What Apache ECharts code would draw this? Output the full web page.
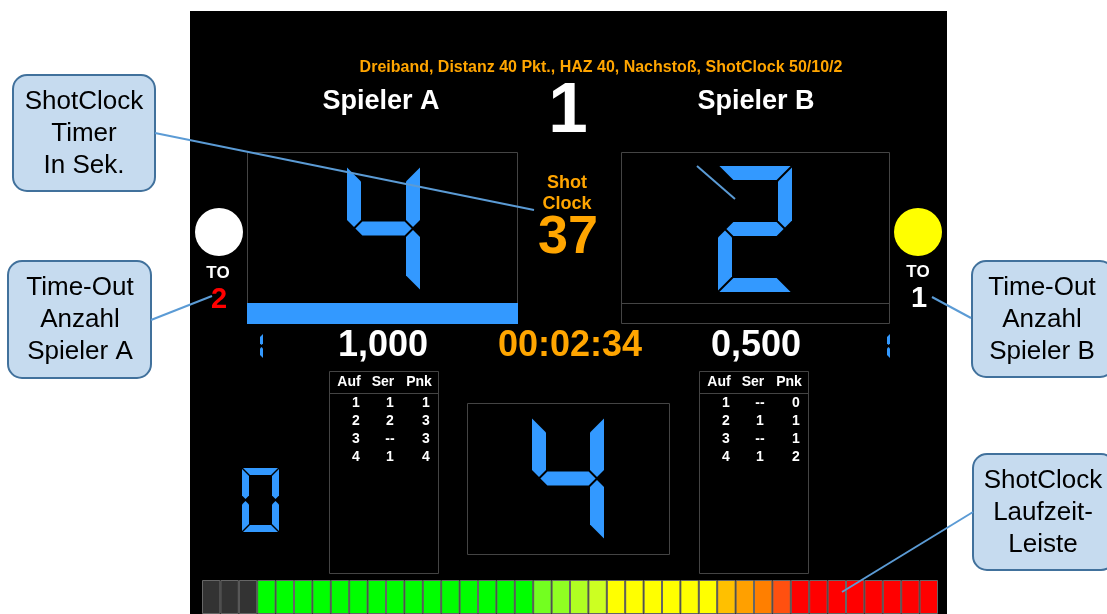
<!DOCTYPE html>
<html><head><meta charset="utf-8">
<script src="https://cdn.jsdelivr.net/npm/echarts@6/dist/echarts.min.js"></script>
<style>html,body{margin:0;padding:0;background:#fff}#c{width:1107px;height:614px}</style>
</head><body><div id="c"></div>
<script>
// ---------- data ----------
const headerText = 'Dreiband, Distanz 40 Pkt., HAZ 40, Nachstoß, ShotClock 50/10/2';
const players = ['Spieler A', 'Spieler B'];
const setNumber = '1';
const shotClockLabel = ['Shot', 'Clock'];
const shotClockSeconds = '37';
const matchTime = '00:02:34';
const averages = ['1,000', '0,500'];
const timeoutLabel = 'TO';
const timeouts = ['2', '1'];
const scoreDigits = [4, 2];
const inningDigit = 4;
const seriesDigit = 0;
const smallDigits = [1, 1];
const tableHeader = ['Auf', 'Ser', 'Pnk'];
const innA = ['1', '2', '3', '4'];
const serA = ['1', '2', '--', '1'];
const pnkA = ['1', '3', '3', '4'];
const innB = ['1', '2', '3', '4'];
const serB = ['--', '1', '--', '1'];
const pnkB = ['0', '1', '1', '2'];
const barCells = Array.from({length: 40}, (_, i) => String(i + 1));
const barValues = [1,1,1,1,1,1,1,1,1,1,1,1,1,1,1,1,1,1,1,1,1,1,1,1,1,1,1,1,1,1,1,1,1,1,1,1,1,1,1,1];
const barColors = [
  '#333333','#333333','#333333',
  '#00ff00','#00ff00','#00ff00','#00ff00','#00ff00','#00ff00','#00ff00','#00ff00',
  '#00ff00','#00ff00','#00ff00','#00ff00','#00ff00','#00ff00','#00ff00',
  '#73ff20','#90ff22','#b0ff22','#ccff22',
  '#ffff00','#ffff00','#ffff00','#ffff00','#ffff00','#ffff00',
  '#ffc000','#ffa000','#ff7f00','#ff5010',
  '#ff0000','#ff0000','#ff0000','#ff0000','#ff0000','#ff0000','#ff0000','#ff0000'
];
const calloutTexts = [
  ['ShotClock', 'Timer', 'In Sek.'],
  ['Time-Out', 'Anzahl', 'Spieler A'],
  ['Time-Out', 'Anzahl', 'Spieler B'],
  ['ShotClock', 'Laufzeit-', 'Leiste']
];

// ---------- helpers ----------
const FONT = '"Liberation Sans", Arial, sans-serif';
const BLUE = '#3399ff';
const ORANGE = '#ffa500';
const GRAY = '#444444';
const SEGMAP = {0:'abcdef',1:'bc',2:'abged',3:'abgcd',4:'fgbc',5:'afgcd',6:'afgedc',7:'abc',8:'abcdefg',9:'abcdfg'};

function sevenSeg(d, x, y, w, h, t, color) {
  const g = Math.max(1, t * 0.1);
  const ym = y + h / 2, ht = t / 2;
  const segs = {
    a: [[x+g, y], [x+w-g, y], [x+w-t-g, y+t], [x+t+g, y+t]],
    d: [[x+t+g, y+h-t], [x+w-t-g, y+h-t], [x+w-g, y+h], [x+g, y+h]],
    g: [[x+ht+g, ym], [x+t+g, ym-ht], [x+w-t-g, ym-ht], [x+w-ht-g, ym], [x+w-t-g, ym+ht], [x+t+g, ym+ht]],
    f: [[x, y+g], [x+t, y+t+g], [x+t, ym-ht-g], [x+ht, ym-g], [x, ym-ht-g]],
    e: [[x, ym+ht+g], [x+ht, ym+g], [x+t, ym+ht+g], [x+t, y+h-t-g], [x, y+h-g]],
    b: [[x+w, y+g], [x+w, ym-ht-g], [x+w-ht, ym-g], [x+w-t, ym-ht-g], [x+w-t, y+t+g]],
    c: [[x+w-t, ym+ht+g], [x+w-ht, ym+g], [x+w, ym+ht+g], [x+w, y+h-g], [x+w-t, y+h-t-g]]
  };
  return SEGMAP[d].split('').map(s => ({type: 'polygon', z: 5, shape: {points: segs[s]}, style: {fill: color}}));
}
function txt(text, x, y, size, color, bold, align, extra) {
  return Object.assign({
    type: 'text', z: 10,
    style: {x: x, y: y, text: text, fill: color, font: (bold ? 'bold ' : '') + size + 'px ' + FONT,
      align: align || 'center', verticalAlign: 'middle'}
  }, extra || {});
}
function box(x, y, w, h, stroke) {
  return {type: 'rect', z: 3, shape: {x: x, y: y, width: w, height: h}, style: {fill: 'none', stroke: stroke || GRAY, lineWidth: 1}};
}
function line(x1, y1, x2, y2) {
  return {type: 'line', z: 50, shape: {x1: x1, y1: y1, x2: x2, y2: y2}, style: {stroke: '#5b9bd5', lineWidth: 2}};
}
function callout(lines, x, y, w, h, cx, cy0) {
  const els = [{type: 'rect', z: 40, shape: {x: x, y: y, width: w, height: h, r: 14},
    style: {fill: '#c6dbef', stroke: '#41719c', lineWidth: 2}}];
  lines.forEach((l, i) => els.push(Object.assign(txt(l, cx, cy0 + i * 32, 26, '#000', false), {z: 41})));
  return els;
}
function table(x0, inn, ser, pnk) {
  const els = [box(x0 + 0.5, 371.5, 109, 202), {type: 'line', z: 3, shape: {x1: x0, y1: 393.5, x2: x0 + 109, y2: 393.5}, style: {stroke: GRAY, lineWidth: 1}}];
  const hx = [20, 54, 90], cx = [27, 61, 97];
  tableHeader.forEach((h, i) => els.push(txt(h, x0 + hx[i], 382, 14, '#fff', true)));
  inn.forEach((v, r) => {
    const y = 403 + r * 17.9;
    els.push(txt(v, x0 + cx[0], y, 14, '#fff', true));
    els.push(txt(ser[r], x0 + cx[1], y, 14, '#fff', true));
    els.push(txt(pnk[r], x0 + cx[2], y, 14, '#fff', true));
  });
  return els;
}

// ---------- graphics ----------
let G = [];
G.push({type: 'rect', z: 0, shape: {x: 190, y: 11, width: 757, height: 603}, style: {fill: '#000'}});
G.push(txt(headerText, 601, 68, 16, ORANGE, true));
G.push(txt(players[0], 381, 102, 27, '#fff', true));
G.push(txt(players[1], 756, 102, 27, '#fff', true));
G.push(txt(setNumber, 568, 112, 71, '#fff', true));
// score boxes
G.push(box(247.5, 152.5, 270, 171));
G.push({type: 'rect', z: 4, shape: {x: 247, y: 303, width: 271, height: 21}, style: {fill: BLUE}});
G.push(box(621.5, 152.5, 268, 171));
G.push({type: 'line', z: 3, shape: {x1: 621, y1: 303.5, x2: 890, y2: 303.5}, style: {stroke: GRAY, lineWidth: 1}});
G = G.concat(sevenSeg(scoreDigits[0], 347, 166, 73, 125, 14, BLUE));
G = G.concat(sevenSeg(scoreDigits[1], 718, 166, 74, 126, 14, BLUE));
// shot clock
G.push(txt(shotClockLabel[0], 567, 183, 18, ORANGE, true));
G.push(txt(shotClockLabel[1], 567, 204, 18, ORANGE, true));
G.push(txt(shotClockSeconds, 568, 238, 54, ORANGE, true));
// timeouts
G.push({type: 'circle', z: 3, shape: {cx: 219, cy: 232, r: 24}, style: {fill: '#fff'}});
G.push({type: 'circle', z: 3, shape: {cx: 918, cy: 232, r: 24}, style: {fill: '#ffff00'}});
G.push(txt(timeoutLabel, 218, 273, 17, '#fff', true));
G.push(txt(timeoutLabel, 918, 272, 17, '#fff', true));
G.push(txt(timeouts[0], 219, 300, 29, '#ff0000', true));
G.push(txt(timeouts[1], 919, 299, 29, '#fff', true));
// averages & time
G.push(txt(averages[0], 383, 346, 36, '#fff', true));
G.push(txt(averages[1], 756, 346, 36, '#fff', true));
G.push(txt(matchTime, 570, 346, 36, ORANGE, true));
G = G.concat(sevenSeg(smallDigits[0], 255, 333, 8, 26, 3, BLUE));
G = G.concat(sevenSeg(smallDigits[1], 882, 333, 8, 26, 3, BLUE));
// tables
G = G.concat(table(329, innA, serA, pnkA));
G = G.concat(table(699, innB, serB, pnkB));
// center inning box and series digit
G.push(box(467.5, 403.5, 202, 151));
G = G.concat(sevenSeg(inningDigit, 532, 417, 72, 123, 14, BLUE));
G = G.concat(sevenSeg(seriesDigit, 242, 468, 37, 64, 7, BLUE));
// callouts
G = G.concat(callout(calloutTexts[0], 13, 75, 142, 116, 84, 102));
G = G.concat(callout(calloutTexts[1], 8, 261, 143, 117, 80, 288));
G = G.concat(callout(calloutTexts[2], 972, 261, 142, 116, 1042, 288));
G = G.concat(callout(calloutTexts[3], 973, 454, 142, 116, 1043, 481));
G.push(line(155, 133, 534, 210));
G.push(line(151, 320, 212, 296));
G.push(line(971, 318, 932, 297));
G.push(line(973, 512, 842, 592));
G.push(line(697, 166, 735, 199));

const chart = echarts.init(document.getElementById('c'), null, {renderer: 'canvas'});
chart.setOption({
  animation: false,
  backgroundColor: '#ffffff',
  grid: {left: 202, top: 580, width: 736, height: 40},
  xAxis: {type: 'category', data: barCells, show: false},
  yAxis: {type: 'value', min: 0, max: 1, show: false},
  series: [{
    type: 'bar', barWidth: '100%', z: 2, silent: true,
    data: barValues.map((v, i) => ({value: v, itemStyle: {color: barColors[i]}})),
    itemStyle: {borderColor: '#666666', borderWidth: 1}
  }],
  graphic: {elements: G}
});
</script>
</body></html>
